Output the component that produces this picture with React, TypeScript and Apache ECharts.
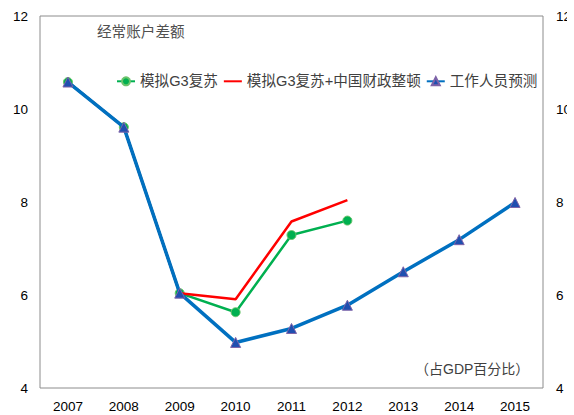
import React, { useEffect, useRef } from "react";
import * as echarts from "echarts";

const years = ["2007", "2008", "2009", "2010", "2011", "2012", "2013", "2014", "2015"];
const g3Recovery = [10.58, 9.61, 6.04, 5.63, 7.29, 7.6, null, null, null];
const g3PlusChina = [10.58, 9.61, 6.04, 5.91, 7.58, 8.04, null, null, null];
const staffProjection = [10.58, 9.61, 6.04, 4.98, 5.28, 5.78, 6.5, 7.19, 7.99];
const seriesNames = ["模拟G3复苏", "模拟G3复苏+中国财政整顿", "工作人员预测"];

const FONT = "'Liberation Sans', Arial, 'Noto Sans CJK SC', sans-serif";

export default function App() {
  const ref = useRef<HTMLDivElement>(null);
  useEffect(() => {
    if (!ref.current) return;
    const chart = echarts.init(ref.current, null, { renderer: "svg" });
    const W = 584;
    chart.setOption({
      animation: false,
      backgroundColor: "#ffffff",
      textStyle: { fontFamily: FONT },
      grid: { left: 40, right: W - 543, top: 16, bottom: 27, show: true, borderColor: "#8c8c8c", borderWidth: 1 },
      legend: {
        left: 116,
        top: 74,
        padding: 0,
        itemWidth: 18,
        itemHeight: 10,
        itemGap: 5,
        textStyle: { fontSize: 14.6, color: "#404040", fontFamily: FONT },
        data: [
          { name: seriesNames[0] },
          { name: seriesNames[1], itemStyle: { opacity: 0 } },
          { name: seriesNames[2] },
        ],
      },
      graphic: [
        { type: "text", left: 97, top: 25, style: { text: "经常账户差额", fontSize: 14.6, fill: "#505050", fontFamily: FONT } },
        { type: "text", left: 415, top: 362, style: { text: "（占GDP百分比）", fontSize: 14, fill: "#404040", fontFamily: FONT } },
      ],
      xAxis: {
        type: "category",
        data: years,
        boundaryGap: true,
        axisLine: { show: false },
        axisTick: { show: false },
        axisLabel: { fontSize: 13.5, color: "#000", margin: 12, fontFamily: FONT },
      },
      yAxis: [
        {
          type: "value",
          min: 4,
          max: 12,
          interval: 2,
          splitLine: { show: false },
          axisLine: { show: false },
          axisTick: { show: false },
          axisLabel: { fontSize: 13.5, color: "#000", margin: 12, fontFamily: FONT },
        },
        {
          type: "value",
          position: "right",
          min: 4,
          max: 12,
          interval: 2,
          splitLine: { show: false },
          axisLine: { show: false },
          axisTick: { show: false },
          axisLabel: { fontSize: 13.5, color: "#000", margin: 13, fontFamily: FONT },
        },
      ],
      series: [
        {
          name: seriesNames[0],
          type: "line",
          data: g3Recovery,
          symbol: "circle",
          symbolSize: 9,
          lineStyle: { color: "#00b050", width: 2.5 },
          itemStyle: { color: "#00b050", borderColor: "#6cc46c", borderWidth: 1 },
          z: 2,
        },
        {
          name: seriesNames[1],
          type: "line",
          data: g3PlusChina,
          symbol: "none",
          lineStyle: { color: "#ff0000", width: 2.5 },
          itemStyle: { color: "#ff0000" },
          z: 3,
        },
        {
          name: seriesNames[2],
          type: "line",
          data: staffProjection,
          symbol: "triangle",
          symbolSize: 10,
          lineStyle: { color: "#0070c0", width: 3.5 },
          itemStyle: { color: "#1f4fb0", borderColor: "#7e63a8", borderWidth: 1 },
          z: 4,
        },
      ],
    });
    return () => chart.dispose();
  }, []);
  return (
    <div style={{ position: "fixed", left: 0, top: 0, width: 574, height: 415, background: "#fff" }}>
      <div style={{ width: 567, height: 415, overflow: "hidden" }}>
        <div ref={ref} style={{ width: 584, height: 415 }} />
      </div>
    </div>
  );
}
